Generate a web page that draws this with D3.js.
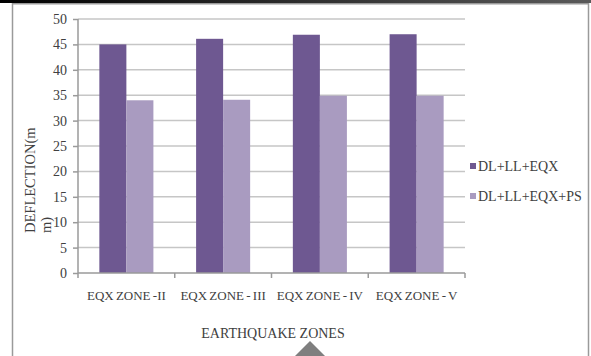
<!DOCTYPE html>
<html>
<head>
<meta charset="utf-8">
<script src="https://cdn.jsdelivr.net/npm/d3@7"></script>
<style>
  html, body { margin: 0; padding: 0; background: #fff; }
  svg { display: block; }
</style>
</head>
<body>
<svg id="chart" width="591" height="356"></svg>
<script>
// Earthquake zones and deflection (mm) for each load combination
const zones = ["EQX ZONE -II", "EQX ZONE - III", "EQX ZONE - IV", "EQX ZONE - V"];
const seriesNames = ["DL+LL+EQX", "DL+LL+EQX+PS"];
const eqx = [45.0, 46.1, 46.9, 47.0];
const eqxPs = [34.0, 34.1, 34.9, 34.9];
const yTicks = [0, 5, 10, 15, 20, 25, 30, 35, 40, 45, 50];
const colors = ["#6e5891", "#a99bc0"];

const FONT = "'Liberation Serif', 'Times New Roman', Times, serif";
const INK = "#404040";

const svg = d3.select("#chart");
const W = 591, H = 356;
const plot = { left: 78, right: 465, top: 19, bottom: 273 };

// Frame: dark strip along the top, grey border around the chart
const grad = svg.append("defs").append("linearGradient")
  .attr("id", "topStrip").attr("x1", "0").attr("x2", "1");
grad.append("stop").attr("offset", "0").attr("stop-color", "#000");
grad.append("stop").attr("offset", "1").attr("stop-color", "#5a5a5a");
svg.append("rect").attr("x", 0).attr("y", 0).attr("width", W).attr("height", 3)
  .attr("fill", "url(#topStrip)");
svg.append("path")
  .attr("d", `M12.5,${H + 2} V3.75 H588.5 V${H + 2}`)
  .attr("fill", "none").attr("stroke", "#9a9a9a").attr("stroke-width", 1.5);

const x = d3.scaleBand().domain(zones).range([plot.left, plot.right]).padding(0);
const xs = d3.scaleBand().domain(seriesNames).range([0, x.bandwidth()])
  .paddingInner(0).paddingOuter(0.79);
const y = d3.scaleLinear().domain([0, 50]).range([plot.bottom, plot.top]);

// Horizontal gridlines
svg.append("g").selectAll("line").data(yTicks.filter(d => d > 0)).join("line")
  .attr("x1", plot.left).attr("x2", plot.right)
  .attr("y1", d => y(d)).attr("y2", d => y(d))
  .attr("stroke", "#c6c6c6").attr("stroke-width", 1.5);

// Bars
const data = zones.map((z, i) => ({ zone: z, values: [eqx[i], eqxPs[i]] }));
svg.append("g").selectAll("g").data(data).join("g")
  .attr("transform", d => `translate(${x(d.zone)},0)`)
  .selectAll("rect").data(d => d.values.map((v, j) => ({ s: seriesNames[j], v, j })))
  .join("rect")
  .attr("x", d => xs(d.s))
  .attr("width", xs.bandwidth())
  .attr("y", d => y(d.v))
  .attr("height", d => y(0) - y(d.v))
  .attr("fill", d => colors[d.j]);

// Y axis
const yAxis = svg.append("g").attr("transform", `translate(${plot.left},0)`)
  .call(d3.axisLeft(y).tickValues(yTicks).tickSize(5).tickPadding(6))
  .attr("font-family", FONT).attr("font-size", 14);
yAxis.select(".domain").attr("stroke", "#9a9a9a").attr("stroke-width", 1.5)
  .attr("d", `M0,${plot.top} V${plot.bottom}`);
yAxis.selectAll(".tick line").attr("stroke", "#9a9a9a").attr("stroke-width", 1.5);
yAxis.selectAll(".tick text").attr("fill", INK);

// X axis with tick marks at category boundaries
const xAxisG = svg.append("g").attr("transform", `translate(0,${plot.bottom})`);
xAxisG.append("line").attr("x1", plot.left).attr("x2", plot.right)
  .attr("stroke", "#9a9a9a").attr("stroke-width", 1.5);
const bounds = zones.map(z => x(z)).concat([x(zones[zones.length - 1]) + x.bandwidth()]);
xAxisG.selectAll("line.tk").data(bounds).join("line").attr("class", "tk")
  .attr("x1", d => d).attr("x2", d => d).attr("y1", 0).attr("y2", 5)
  .attr("stroke", "#9a9a9a").attr("stroke-width", 1.5);
xAxisG.selectAll("text").data(zones).join("text")
  .attr("x", d => x(d) + x.bandwidth() / 2).attr("y", 27)
  .attr("text-anchor", "middle")
  .attr("font-family", FONT).attr("font-size", 13).attr("fill", INK)
  .attr("word-spacing", "-1px")
  .text(d => d);

// Axis titles
svg.append("text").attr("x", 273).attr("y", 338).attr("text-anchor", "middle")
  .attr("font-family", FONT).attr("font-size", 14).attr("fill", INK)
  .text("EARTHQUAKE ZONES");
const yTitle = svg.append("text").attr("transform", "translate(35,233) rotate(-90)")
  .attr("font-family", FONT).attr("font-size", 14.5).attr("fill", INK);
yTitle.append("tspan").attr("x", 0).attr("y", 0).text("DEFLECTION(m");
yTitle.append("tspan").attr("x", 0).attr("y", 16).text("m)");

// Legend
const legend = svg.append("g").selectAll("g").data(seriesNames).join("g")
  .attr("transform", (d, i) => `translate(470,${166 + i * 30})`);
legend.append("rect").attr("x", 0).attr("y", -3).attr("width", 6).attr("height", 6)
  .attr("fill", (d, i) => colors[i]);
legend.append("text").attr("x", 8).attr("y", 5)
  .attr("font-family", FONT).attr("font-size", 14).attr("fill", INK)
  .text(d => d);

// Grey marker triangle at the bottom edge
svg.append("path").attr("d", "M310,341 L325,356 L295,356 Z").attr("fill", "#7f7f7f");
</script>
</body>
</html>
